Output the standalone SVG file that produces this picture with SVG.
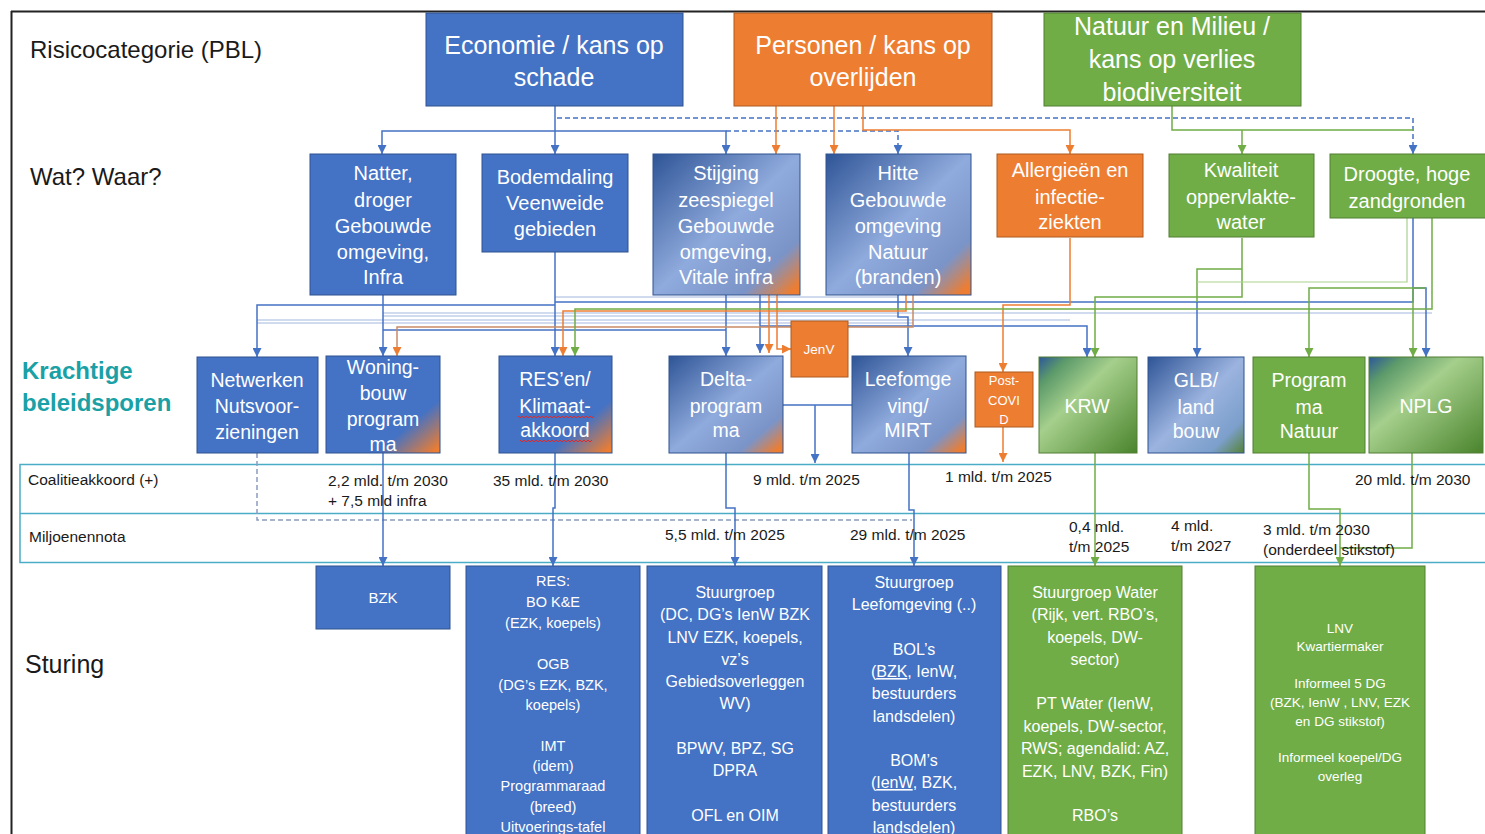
<svg xmlns="http://www.w3.org/2000/svg" width="1485" height="834" viewBox="0 0 1485 834">
<defs>
<style>
text{font-family:"Liberation Sans",Arial,sans-serif}
.lbl{font-size:24px;fill:#1a1a1a}
.kb{font-size:24px;font-weight:bold;fill:#1AA1A6}
.tw{fill:#fff;text-anchor:middle}
.f25{font-size:25px}
.f20{font-size:20px}
.f19{font-size:19.5px}
.f16{font-size:16px}
.f145{font-size:14.5px}
.f135{font-size:13.5px}
.f13{font-size:13px}
.tab{font-size:15.5px;fill:#1a1a1a}
.bb{fill:#4472C4;stroke:#2F528F;stroke-width:1}
.bo{fill:#ED7D31;stroke:#AE5A21;stroke-width:1}
.bg{fill:#70AD47;stroke:#507E32;stroke-width:1}
.c{fill:none;stroke-width:1.5}
.cb{stroke:#4472C4}
.clb{stroke:#A4B8E0;stroke-width:1.2}
.co{stroke:#ED7D31}
.cbr{stroke:#C98A66}
.cg{stroke:#70AD47}
.clg{stroke:#A9D18E;stroke-width:1.2}
.d{stroke-dasharray:5 3}
.tbl{fill:none;stroke:#4BACC6;stroke-width:1.5}
.wavy{fill:none;stroke:#E02828;stroke-width:1}
</style>
<marker id="aB" viewBox="0 0 10 10" refX="10" refY="5" markerWidth="9" markerHeight="9" orient="auto" markerUnits="userSpaceOnUse"><path d="M0,0 L10,5 L0,10 z" fill="#4472C4"/></marker>
<marker id="aO" viewBox="0 0 10 10" refX="10" refY="5" markerWidth="9" markerHeight="9" orient="auto" markerUnits="userSpaceOnUse"><path d="M0,0 L10,5 L0,10 z" fill="#ED7D31"/></marker>
<marker id="aG" viewBox="0 0 10 10" refX="10" refY="5" markerWidth="9" markerHeight="9" orient="auto" markerUnits="userSpaceOnUse"><path d="M0,0 L10,5 L0,10 z" fill="#70AD47"/></marker>
<linearGradient id="gBO" x1="0" y1="0" x2="1" y2="1">
<stop offset="0" stop-color="#2F5597"/><stop offset="0.5" stop-color="#8FAADC"/><stop offset="0.8" stop-color="#7B94C8"/><stop offset="0.96" stop-color="#ED7D31"/></linearGradient>
<linearGradient id="gWO" x1="0" y1="0" x2="1" y2="1">
<stop offset="0" stop-color="#4472C4"/><stop offset="0.72" stop-color="#4472C4"/><stop offset="0.97" stop-color="#ED7D31"/></linearGradient>
<linearGradient id="gGB" x1="0" y1="0" x2="1" y2="1">
<stop offset="0" stop-color="#2B579A"/><stop offset="0.15" stop-color="#5C9A6A"/><stop offset="0.4" stop-color="#A5CF8C"/><stop offset="1" stop-color="#4A842C"/></linearGradient>
<linearGradient id="gGLB" x1="0" y1="0" x2="1" y2="1">
<stop offset="0" stop-color="#2F5597"/><stop offset="0.5" stop-color="#9BB3DF"/><stop offset="0.82" stop-color="#7C9FCB"/><stop offset="1" stop-color="#548235"/></linearGradient>
</defs>

<rect x="0" y="0" width="1485" height="834" fill="#fff"/>
<path d="M11,11.5 H1485 M11.5,11 V834" fill="none" stroke="#222" stroke-width="2"/>

<g id="labels">
<text class="lbl" x="30" y="58">Risicocategorie (PBL)</text>
<text class="lbl" x="30" y="185">Wat? Waar?</text>
<text class="kb" x="22" y="379">Krachtige</text>
<text class="kb" x="22" y="411">beleidsporen</text>
<text class="lbl" x="25" y="673" style="font-size:25px">Sturing</text>
</g>

<g id="table">
<rect class="tbl" x="20" y="464.5" width="1480" height="98"/>
<line class="tbl" x1="20" y1="513.5" x2="1485" y2="513.5"/>
<text class="tab" x="28" y="485">Coalitieakkoord (+)</text>
<text class="tab" x="29" y="542">Miljoenennota</text>
</g>

<g id="connectors">
<path class="c cb" d="M555,106 V131" stroke-width="3"/>
<path class="c cb" d="M555,131 H382 V154" marker-end="url(#aB)"/>
<path class="c cb" d="M555,131 V154" marker-end="url(#aB)"/>
<path class="c cb" d="M555,131 H726 V154" marker-end="url(#aB)"/>
<path class="c cb d" d="M726,131 H898 V154" marker-end="url(#aB)"/>
<path class="c cb d" d="M557,118 H1413 V154" marker-end="url(#aB)"/>
<path class="c co" d="M776,106 V154" marker-end="url(#aO)"/>
<path class="c co" d="M834,106 V154" marker-end="url(#aO)"/>
<path class="c co" d="M863,106 V130 H1070 V154" marker-end="url(#aO)"/>
<path class="c cg" d="M1172,106 V130 H1413"/>
<path class="c cg" d="M1242,130 V154" marker-end="url(#aG)"/>

<path class="c clb" d="M555,297 H898"/>
<path class="c clb" d="M383,313 H1432"/>
<path class="c clb" d="M383,316 H898"/>
<path class="c clb" d="M257,320 H1070"/>
<path class="c clb" d="M257,323 H913"/>
<path class="c cb" d="M383,295 V356" marker-end="url(#aB)"/>
<path class="c cb" d="M555,252 V356" marker-end="url(#aB)"/>
<path class="c cb" d="M726,295 V356" marker-end="url(#aB)"/>
<path class="c cb" d="M383,330 H726"/>
<path class="c cb" d="M760,295 V353" marker-end="url(#aB)"/>
<path class="c cb" d="M898,295 V317 H908 V356" marker-end="url(#aB)"/>
<path class="c cb" d="M555,305 H257 V357" marker-end="url(#aB)"/>
<path class="c cb" d="M1413,218 V302 H555"/>
<path class="c cb" d="M1197,302 V357" marker-end="url(#aB)"/>
<path class="c cb" d="M760,326 H1087 V357" marker-end="url(#aB)"/>
<path class="c cb" d="M1413,288 H1426 V357" marker-end="url(#aB)"/>
<path class="c co" d="M906,295 V311 H563 V356" marker-end="url(#aO)"/>
<path class="c cbr" d="M913,295 V327 H397 V356" marker-end="url(#aO)"/>
<path class="c co" d="M769,295 V353" marker-end="url(#aO)"/>
<path class="c co" d="M777,295 V349 H791" marker-end="url(#aO)"/>
<path class="c co" d="M1070,238 V305 H1003 V372" marker-end="url(#aO)"/>
<path class="c co" d="M1003,427 V462" marker-end="url(#aO)"/>
<path class="c cg" d="M1432,218 V309 H575 V356" marker-end="url(#aG)"/>
<path class="c cg" d="M1242,238 V297 H1095 V357" marker-end="url(#aG)"/>
<path class="c cg" d="M1242,269 H1197 V302"/>
<path class="c clg" d="M1407,218 V282 H1197"/>
<path class="c cg" d="M1413,288 V357" marker-end="url(#aG)"/>
<path class="c cg" d="M1426,288 H1309 V357" marker-end="url(#aG)"/>

<path class="c d" stroke="#8A9CC0" d="M257,453 V520 H912"/>
<path class="c cb" d="M383,440 V566" marker-end="url(#aB)"/>
<path class="c cb" d="M555,453 V508 H553 V566" marker-end="url(#aB)"/>
<path class="c cb" d="M726,453 V508 H735 V566" marker-end="url(#aB)"/>
<path class="c cb" d="M783,405 H852 M815,405 V463" marker-end="url(#aB)"/>
<path class="c cb" d="M909,453 V510 H914 V566" marker-end="url(#aB)"/>
<path class="c cg" d="M1095,453 V566" stroke="#8CC46A" marker-end="url(#aG)"/>
<path class="c cg" d="M1309,453 V509 H1340 V566" marker-end="url(#aG)"/>
<path class="c cg" d="M1412,453 V548 H1340"/>
</g>

<g id="table-values">
<text class="tab" x="328" y="486">2,2 mld. t/m 2030</text>
<text class="tab" x="328" y="506">+ 7,5 mld infra</text>
<text class="tab" x="493" y="486">35 mld. t/m 2030</text>
<text class="tab" x="753" y="485">9 mld. t/m 2025</text>
<text class="tab" x="945" y="482">1 mld. t/m 2025</text>
<text class="tab" x="1355" y="485">20 mld. t/m 2030</text>
<text class="tab" x="665" y="540">5,5 mld. t/m 2025</text>
<text class="tab" x="850" y="540">29 mld. t/m 2025</text>
<text class="tab" x="1069" y="532">0,4 mld.</text>
<text class="tab" x="1069" y="552">t/m 2025</text>
<text class="tab" x="1171" y="531">4 mld.</text>
<text class="tab" x="1171" y="551">t/m 2027</text>
<text class="tab" x="1263" y="535">3 mld. t/m 2030</text>
<text class="tab" x="1263" y="555">(onderdeel stikstof)</text>
</g>

<g id="n-economie"><rect class="bb" x="426" y="13" width="257" height="93"/>
<text class="tw f25" x="554" y="54">Economie / kans op</text><text class="tw f25" x="554" y="86">schade</text></g>
<g id="n-personen"><rect class="bo" x="734" y="13" width="258" height="93"/>
<text class="tw f25" x="863" y="54">Personen / kans op</text><text class="tw f25" x="863" y="86">overlijden</text></g>
<g id="n-natuur"><rect class="bg" x="1044" y="13" width="257" height="93"/>
<text class="tw f25" x="1172" y="35">Natuur en Milieu /</text><text class="tw f25" x="1172" y="68">kans op verlies</text><text class="tw f25" x="1172" y="101">biodiversiteit</text></g>

<g id="n-natter"><rect class="bb" x="310" y="154" width="146" height="141"/>
<text class="tw f20" x="383" y="180">Natter,</text><text class="tw f20" x="383" y="207">droger</text><text class="tw f20" x="383" y="233">Gebouwde</text><text class="tw f20" x="383" y="259">omgeving,</text><text class="tw f20" x="383" y="284">Infra</text></g>
<g id="n-bodemdaling"><rect class="bb" x="482" y="154" width="146" height="98"/>
<text class="tw f20" x="555" y="184">Bodemdaling</text><text class="tw f20" x="555" y="210">Veenweide</text><text class="tw f20" x="555" y="236">gebieden</text></g>
<g id="n-stijging"><rect x="653" y="154" width="147" height="141" fill="url(#gBO)" stroke="#2F528F"/>
<text class="tw f20" x="726" y="180">Stijging</text><text class="tw f20" x="726" y="207">zeespiegel</text><text class="tw f20" x="726" y="233">Gebouwde</text><text class="tw f20" x="726" y="259">omgeving,</text><text class="tw f20" x="726" y="284">Vitale infra</text></g>
<g id="n-hitte"><rect x="826" y="154" width="145" height="141" fill="url(#gBO)" stroke="#2F528F"/>
<text class="tw f20" x="898" y="180">Hitte</text><text class="tw f20" x="898" y="207">Gebouwde</text><text class="tw f20" x="898" y="233">omgeving</text><text class="tw f20" x="898" y="259">Natuur</text><text class="tw f20" x="898" y="284">(branden)</text></g>
<g id="n-allergie"><rect class="bo" x="997" y="154" width="146" height="83"/>
<text class="tw f20" x="1070" y="177">Allergieën en</text><text class="tw f20" x="1070" y="204">infectie-</text><text class="tw f20" x="1070" y="229">ziekten</text></g>
<g id="n-kwaliteit"><rect class="bg" x="1169" y="154" width="145" height="83"/>
<text class="tw f20" x="1241" y="177">Kwaliteit</text><text class="tw f20" x="1241" y="204">oppervlakte-</text><text class="tw f20" x="1241" y="229">water</text></g>
<g id="n-droogte"><rect class="bg" x="1330" y="154" width="160" height="64"/>
<text class="tw f20" x="1407" y="181">Droogte, hoge</text><text class="tw f20" x="1407" y="208">zandgronden</text></g>

<g id="n-netwerken"><rect class="bb" x="197" y="357" width="121" height="96"/>
<text class="tw f19" x="257" y="387">Netwerken</text><text class="tw f19" x="257" y="413">Nutsvoor-</text><text class="tw f19" x="257" y="439">zieningen</text></g>
<g id="n-woningbouw"><rect x="326" y="356" width="114" height="97" fill="url(#gWO)" stroke="#2F528F"/>
<text class="tw f19" x="383" y="374">Woning-</text><text class="tw f19" x="383" y="400">bouw</text><text class="tw f19" x="383" y="426">program</text><text class="tw f19" x="383" y="451">ma</text></g>
<g id="n-res"><rect x="499" y="356" width="113" height="97" fill="url(#gWO)" stroke="#2F528F"/>
<text class="tw f19" x="555" y="386">RES’en/</text><text class="tw f19" x="555" y="413">Klimaat-</text><text class="tw f19" x="555" y="437">akkoord</text>
<path class="wavy" d="M518,416 l2,2 l2,-2 l2,2 l2,-2 l2,2 l2,-2 l2,2 l2,-2 l2,2 l2,-2 l2,2 l2,-2 l2,2 l2,-2 l2,2 l2,-2 l2,2 l2,-2 l2,2 l2,-2 l2,2 l2,-2 l2,2 l2,-2 l2,2 l2,-2 l2,2 l2,-2 l2,2 l2,-2 l2,2 l2,-2 l2,2 l2,-2 l2,2 l2,-2 l2,2 l2,-2"/>
<path class="wavy" d="M520,440 l2,2 l2,-2 l2,2 l2,-2 l2,2 l2,-2 l2,2 l2,-2 l2,2 l2,-2 l2,2 l2,-2 l2,2 l2,-2 l2,2 l2,-2 l2,2 l2,-2 l2,2 l2,-2 l2,2 l2,-2 l2,2 l2,-2 l2,2 l2,-2 l2,2 l2,-2 l2,2 l2,-2 l2,2 l2,-2 l2,2 l2,-2 l2,2 l2,-2"/></g>
<g id="n-delta"><rect x="669" y="356" width="114" height="97" fill="url(#gBO)" stroke="#2F528F"/>
<text class="tw f19" x="726" y="386">Delta-</text><text class="tw f19" x="726" y="413">program</text><text class="tw f19" x="726" y="437">ma</text></g>
<g id="n-jenv"><rect class="bo" x="791" y="321" width="57" height="56"/>
<text class="tw f135" x="819" y="354">JenV</text></g>
<g id="n-leefomgeving"><rect x="852" y="356" width="114" height="97" fill="url(#gBO)" stroke="#2F528F"/>
<text class="tw f19" x="908" y="386">Leefomge</text><text class="tw f19" x="908" y="413">ving/</text><text class="tw f19" x="908" y="437">MIRT</text></g>
<g id="n-postcovid"><rect class="bo" x="975" y="372" width="58" height="55"/>
<text class="tw f13" x="1004" y="385">Post-</text><text class="tw f13" x="1004" y="405">COVI</text><text class="tw f13" x="1004" y="424">D</text></g>
<g id="n-krw"><rect x="1039" y="357" width="98" height="96" fill="url(#gGB)" stroke="#507E32"/>
<text class="tw f19" x="1087" y="413">KRW</text></g>
<g id="n-glb"><rect x="1148" y="357" width="96" height="96" fill="url(#gGLB)" stroke="#2F528F"/>
<text class="tw f19" x="1196" y="387">GLB/</text><text class="tw f19" x="1196" y="414">land</text><text class="tw f19" x="1196" y="438">bouw</text></g>
<g id="n-programmanatuur"><rect class="bg" x="1253" y="357" width="112" height="96"/>
<text class="tw f19" x="1309" y="387">Program</text><text class="tw f19" x="1309" y="414">ma</text><text class="tw f19" x="1309" y="438">Natuur</text></g>
<g id="n-nplg"><rect x="1369" y="357" width="114" height="96" fill="url(#gGB)" stroke="#507E32"/>
<text class="tw f19" x="1426" y="413">NPLG</text></g>

<g id="n-bzk"><rect class="bb" x="316" y="566" width="134" height="63"/>
<text class="tw" x="383" y="603" style="font-size:15px">BZK</text></g>
<g id="n-res-sturing"><rect class="bb" x="466" y="566" width="174" height="280"/>
<text class="tw f145" x="553" y="586">RES:</text><text class="tw f145" x="553" y="607">BO K&amp;E</text><text class="tw f145" x="553" y="628">(EZK, koepels)</text>
<text class="tw f145" x="553" y="669">OGB</text><text class="tw f145" x="553" y="690">(DG’s EZK, BZK,</text><text class="tw f145" x="553" y="710">koepels)</text>
<text class="tw f145" x="553" y="751">IMT</text><text class="tw f145" x="553" y="771">(idem)</text><text class="tw f145" x="553" y="791">Programmaraad</text><text class="tw f145" x="553" y="812">(breed)</text><text class="tw f145" x="553" y="832">Uitvoerings-tafel</text></g>
<g id="n-stuurgroep-delta"><rect class="bb" x="647" y="566" width="175" height="280"/>
<text class="tw f16" x="735" y="598">Stuurgroep</text><text class="tw f16" x="735" y="620">(DC, DG’s IenW BZK</text><text class="tw f16" x="735" y="643">LNV EZK, koepels,</text><text class="tw f16" x="735" y="665">vz’s</text><text class="tw f16" x="735" y="687">Gebiedsoverleggen</text><text class="tw f16" x="735" y="709">WV)</text>
<text class="tw f16" x="735" y="754">BPWV, BPZ, SG</text><text class="tw f16" x="735" y="776">DPRA</text>
<text class="tw f16" x="735" y="821">OFL en OIM</text></g>
<g id="n-stuurgroep-leefomgeving"><rect class="bb" x="828" y="566" width="173" height="280"/>
<text class="tw f16" x="914" y="588">Stuurgroep</text><text class="tw f16" x="914" y="610">Leefomgeving (..)</text>
<text class="tw f16" x="914" y="655">BOL’s</text><text class="tw f16" x="914" y="677">(<tspan text-decoration="underline">BZK</tspan>, IenW,</text><text class="tw f16" x="914" y="699">bestuurders</text><text class="tw f16" x="914" y="722">landsdelen)</text>
<text class="tw f16" x="914" y="766">BOM’s</text><text class="tw f16" x="914" y="788">(<tspan text-decoration="underline">IenW</tspan>, BZK,</text><text class="tw f16" x="914" y="811">bestuurders</text><text class="tw f16" x="914" y="833">landsdelen)</text></g>
<g id="n-stuurgroep-water"><rect class="bg" x="1008" y="566" width="174" height="280"/>
<text class="tw f16" x="1095" y="598">Stuurgroep Water</text><text class="tw f16" x="1095" y="620">(Rijk, vert. RBO’s,</text><text class="tw f16" x="1095" y="643">koepels, DW-</text><text class="tw f16" x="1095" y="665">sector)</text>
<text class="tw f16" x="1095" y="709">PT Water (IenW,</text><text class="tw f16" x="1095" y="732">koepels, DW-sector,</text><text class="tw f16" x="1095" y="754">RWS; agendalid: AZ,</text><text class="tw f16" x="1095" y="777">EZK, LNV, BZK, Fin)</text>
<text class="tw f16" x="1095" y="821">RBO’s</text></g>
<g id="n-lnv"><rect class="bg" x="1255" y="566" width="170" height="280"/>
<text class="tw f135" x="1340" y="633">LNV</text><text class="tw f135" x="1340" y="651">Kwartiermaker</text>
<text class="tw f135" x="1340" y="688">Informeel 5 DG</text><text class="tw f135" x="1340" y="707">(BZK, IenW , LNV, EZK</text><text class="tw f135" x="1340" y="726">en DG stikstof)</text>
<text class="tw f135" x="1340" y="762">Informeel koepel/DG</text><text class="tw f135" x="1340" y="781">overleg</text></g>
</svg>
